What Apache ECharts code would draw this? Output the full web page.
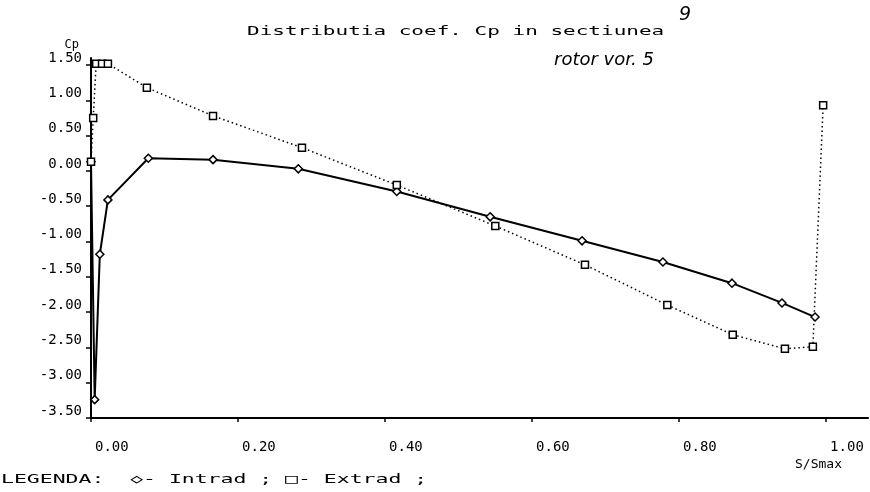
<!DOCTYPE html>
<html><head><meta charset="utf-8">
<script src="https://cdn.jsdelivr.net/npm/echarts@6/dist/echarts.min.js"></script>
<style>html,body{margin:0;padding:0;background:#fff}#c{width:870px;height:492px}</style>
</head><body><div id="c"></div>
<script>
// Intrad (pressure side) : S/Smax and Cp
const intradX  = [0.000, 0.005, 0.012, 0.023, 0.078, 0.166, 0.282, 0.416, 0.543, 0.668, 0.778, 0.872, 0.940, 0.985];
const intradCp = [0.13, -3.24, -1.18, -0.41, 0.18, 0.16, 0.03, -0.29, -0.65, -0.99, -1.29, -1.59, -1.87, -2.07];
// Extrad (suction side)
const extradX  = [0.000, 0.003, 0.007, 0.015, 0.023, 0.076, 0.166, 0.287, 0.416, 0.550, 0.672, 0.784, 0.873, 0.944, 0.982, 0.996];
const extradCp = [0.13, 0.75, 1.52, 1.52, 1.52, 1.18, 0.78, 0.33, -0.20, -0.78, -1.33, -1.90, -2.32, -2.52, -2.49, 0.93];
const xTicks = [0, 0.2, 0.4, 0.6, 0.8, 1.0];
const yTicks = [-3.5, -3, -2.5, -2, -1.5, -1, -0.5, 0, 0.5, 1, 1.5];
const titleText = 'Distributia coef. Cp in sectiunea';
const sectionText = '9';
const subtitleText = 'rotor vor. 5';
const legendText = 'LEGENDA:  \u25C7- Intrad ; \u25A1- Extrad ;';

const pair = (xs, ys) => xs.map((x, i) => [x, ys[i]]);
const mono = '"DejaVu Sans Mono", "Liberation Mono", monospace';

const chart = echarts.init(document.getElementById('c'), null, {renderer: 'canvas'});
chart.setOption({
  backgroundColor: '#ffffff',
  animation: false,
  grid: {left: 91, right: 2, top: 58, bottom: 74, containLabel: false, outerBoundsMode: 'none'},
  xAxis: {
    type: 'value', min: 0, max: 1.057,
    name: 'S/Smax', nameLocation: 'end', nameGap: -73,
    nameTextStyle: {fontFamily: mono, fontSize: 13, color: '#000', verticalAlign: 'top', align: 'left', padding: [40, 0, 0, 0]},
    axisLine: {onZero: false, lineStyle: {color: '#000', width: 2}},
    axisTick: {show: true, length: 4, customValues: xTicks, lineStyle: {color: '#000', width: 1.5}},
    axisLabel: {customValues: xTicks, formatter: v => v.toFixed(2), fontFamily: mono, fontSize: 14, color: '#000',
                align: 'left', padding: [0, 0, 0, 4], margin: 22},
    splitLine: {show: false}
  },
  yAxis: {
    type: 'value', min: -3.5, max: 1.6,
    name: 'Cp', nameLocation: 'end', nameGap: 7,
    nameTextStyle: {fontFamily: mono, fontSize: 12, color: '#000', align: 'right', padding: [0, 12, 0, 0]},
    axisLine: {onZero: false, lineStyle: {color: '#000', width: 2}},
    axisTick: {show: true, length: 5, customValues: yTicks, lineStyle: {color: '#000', width: 1.5}},
    axisLabel: {customValues: yTicks, formatter: v => v.toFixed(2), fontFamily: mono, fontSize: 14, color: '#000',
                margin: 9, verticalAlign: 'bottom', lineHeight: 14},
    splitLine: {show: false}
  },
  series: [
    {
      name: 'Intrad', type: 'line', data: pair(intradX, intradCp), clip: false,
      symbol: 'diamond', symbolSize: 8,
      lineStyle: {color: '#000', width: 2},
      itemStyle: {color: '#fff', borderColor: '#000', borderWidth: 1.5}
    },
    {
      name: 'Extrad', type: 'line', data: pair(extradX, extradCp), clip: false,
      symbol: 'rect', symbolSize: 7,
      lineStyle: {color: '#000', width: 1.5, type: [1.5, 3]},
      itemStyle: {color: '#fff', borderColor: '#000', borderWidth: 1.5}
    }
  ],
  graphic: [
    {type: 'text', x: 247, y: 32, scaleX: 1.75,
     style: {text: titleText, font: '12px ' + mono, fill: '#000', textAlign: 'left', textVerticalAlign: 'middle', verticalAlign: 'middle'}},
    {type: 'text', x: 685, y: 15,
     style: {text: sectionText, font: 'italic 19px "DejaVu Sans", sans-serif', fill: '#000', textAlign: 'center', verticalAlign: 'middle'}},
    {type: 'text', x: 554, y: 60,
     style: {text: subtitleText, font: 'italic 18px "DejaVu Sans", sans-serif', fill: '#000', textAlign: 'left', verticalAlign: 'middle'}},
    {type: 'text', x: 1, y: 480, scaleX: 1.65,
     style: {text: legendText, font: '13px ' + mono, fill: '#000', textAlign: 'left', verticalAlign: 'middle'}}
  ]
});
</script>
</body></html>
